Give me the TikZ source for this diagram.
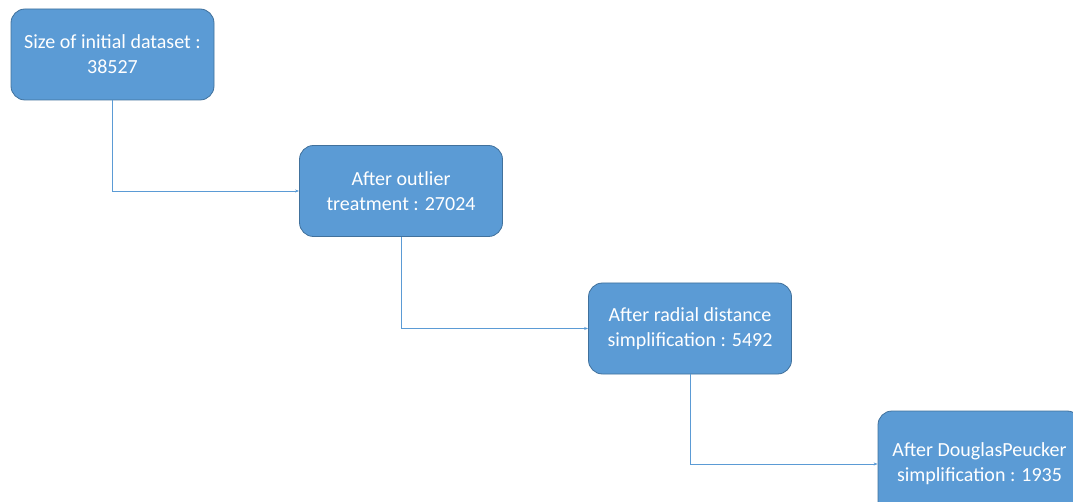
\documentclass[tikz,border=0pt]{standalone}
\usepackage{fontspec}
\setmainfont{Carlito}
\usetikzlibrary{arrows.meta}
\definecolor{boxfill}{HTML}{5B9BD5}
\definecolor{boxline}{HTML}{41719C}
\definecolor{conn}{HTML}{5B9BD5}
\tikzset{
  stepbox/.style={draw=boxline, line width=0.8pt, fill=boxfill, rounded corners=14pt,
    minimum width=203pt, minimum height=91pt, text=white, align=center,
    font=\fontsize{20}{25}\selectfont, inner sep=0pt},
  conn/.style={draw=conn, line width=0.7pt, -{Stealth[length=4pt,width=3pt]}}
}
\begin{document}
\begin{tikzpicture}[x=1pt,y=-1pt]
\useasboundingbox (0,0) rectangle (1073,502);
\node[stepbox] (a) at (112.5,54.5) {Size of initial dataset :\\38527};
\node[stepbox] (b) at (401,191) {After outlier\\treatment : 27024};
\node[stepbox] (c) at (690,328.5) {After radial distance\\simplification : 5492};
\node[stepbox, minimum height=106pt] (d) at (979.5,464) {After DouglasPeucker\\simplification : 1935};
\draw[conn] (a.south) |- (b.west);
\draw[conn] (b.south) |- (c.west);
\draw[conn] (c.south) |- (d.west);
\end{tikzpicture}
\end{document}
